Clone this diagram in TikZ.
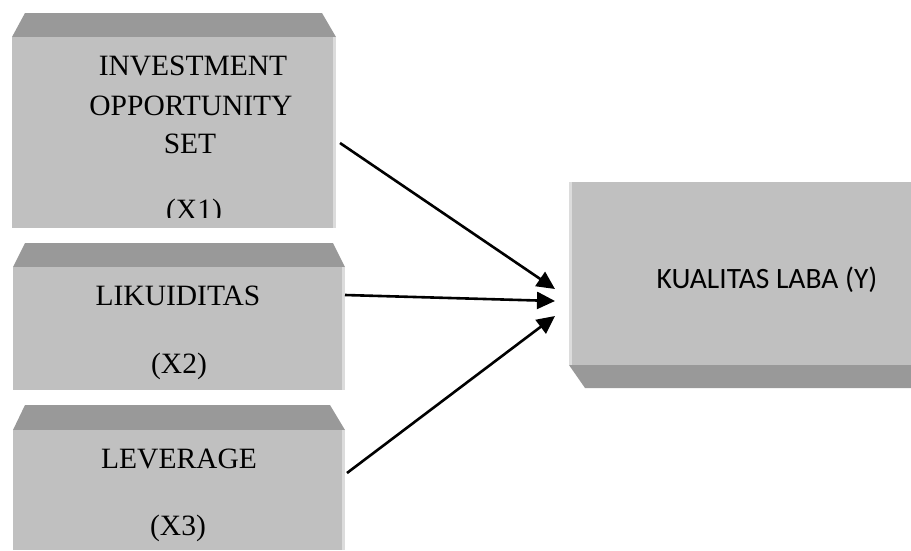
\documentclass[tikz,border=0pt]{standalone}
\usepackage{fontspec}
\setmainfont{Liberation Serif}
\newfontfamily\calfont{Carlito}
\usetikzlibrary{arrows.meta}
\definecolor{bodygray}{HTML}{C0C0C0}
\definecolor{bevelgray}{HTML}{999999}
\definecolor{edgegray}{HTML}{DCDCDC}
\tikzset{
  body/.style={fill=bodygray, draw=none, inner sep=0pt, anchor=north west},
  bevel/.style={fill=bevelgray, draw=none},
  edge/.style={fill=edgegray, draw=none},
  lbl/.style={anchor=base, inner sep=0pt, font=\fontsize{29.5}{34}\selectfont},
  ylbl/.style={anchor=base, inner sep=0pt, font=\calfont\fontsize{29.5}{34}\selectfont},
  conn/.style={line width=2.6pt, -{Triangle[length=18pt,width=17pt]}}
}
\begin{document}
\begin{tikzpicture}[x=1pt,y=-1pt]
\useasboundingbox[fill=white] (0,0) rectangle (911,550);
% box 1
\fill[bevel] (25,13) -- (322,13) -- (336,37) -- (12,37) -- cycle;
\node[body, minimum width=324pt, minimum height=191pt] (b1) at (12,37) {};
\fill[edge] (333,37) rectangle (336,228);
\begin{scope}
\clip (12,37) rectangle (336,217);
\node[lbl] (t1a) at (193,75) {INVESTMENT};
\node[lbl] (t1b) at (191,115) {OPPORTUNITY};
\node[lbl] (t1c) at (190,153) {SET};
\node[lbl] (t1d) at (194,219) {(X1)};
\end{scope}
% box 2
\fill[bevel] (25,243) -- (333,243) -- (345,267) -- (13,267) -- cycle;
\node[body, minimum width=332pt, minimum height=123pt] (b2) at (13,267) {};
\fill[edge] (342,267) rectangle (345,390);
\node[lbl] (t2a) at (178,305) {LIKUIDITAS};
\node[lbl] (t2b) at (179,373) {(X2)};
% box 3
\fill[bevel] (25,405) -- (330,405) -- (345,430) -- (13,430) -- cycle;
\node[body, minimum width=332pt, minimum height=120pt] (b3) at (13,430) {};
\fill[edge] (342,430) rectangle (345,550);
\node[lbl] (t3a) at (179,468) {LEVERAGE};
\node[lbl] (t3b) at (178,535) {(X3)};
% box Y
\node[body, minimum width=342pt, minimum height=183pt] (by) at (569,182) {};
\fill[edge] (569,182) rectangle (572,365);
\fill[bevel] (569,365) -- (911,365) -- (911,388) -- (585,388) -- cycle;
\node[ylbl] (ty) at (767,288) {KUALITAS LABA (Y)};
% connectors
\coordinate (s1) at (340,143);
\coordinate (s2) at (345,295);
\coordinate (s3) at (347,473);
\coordinate (e1) at (555,289);
\coordinate (e2) at (555,301);
\coordinate (e3) at (555,316);
\draw[conn] (s1) -- (e1);
\draw[conn] (s2) -- (e2);
\draw[conn] (s3) -- (e3);
\end{tikzpicture}
\end{document}
